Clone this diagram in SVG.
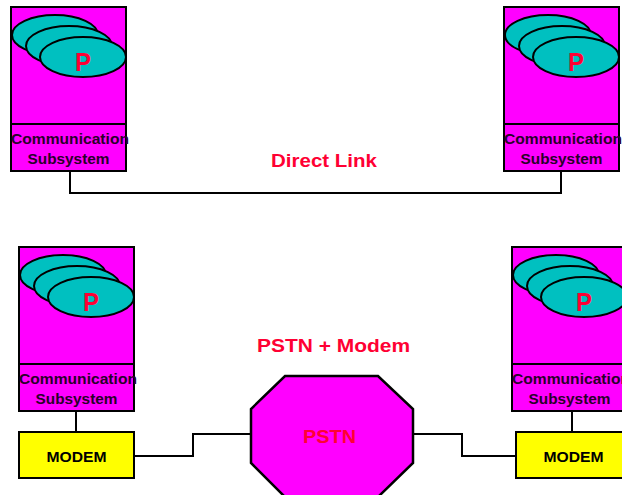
<svg xmlns="http://www.w3.org/2000/svg" width="622" height="495" viewBox="0 0 622 495">
<style>
.box{fill:#ff00ff;stroke:#000;stroke-width:2}
.ell{fill:#00c0c0;stroke:#000;stroke-width:2}
.p{font-family:"Liberation Sans",Arial,sans-serif;font-weight:bold;font-size:26px;fill:#ff0033;text-anchor:middle}
.cs{font-family:"Liberation Sans",Arial,sans-serif;font-weight:bold;font-size:15.5px;fill:#2a002a;text-anchor:middle}
.modem{fill:#ffff00;stroke:#000;stroke-width:2}
.mt{font-family:"Liberation Sans",Arial,sans-serif;font-weight:bold;font-size:15px;fill:#000;text-anchor:middle}
.lbl{font-family:"Liberation Sans",Arial,sans-serif;font-weight:bold;font-size:19px;fill:#ff0033;text-anchor:middle}
.wire{fill:none;stroke:#000;stroke-width:2}
</style>
<rect width="622" height="495" fill="#ffffff"/>
<g id="connectors">
<path class="wire" d="M70,171 V193 H561 V171"/>
<path class="wire" d="M76,411 V432"/>
<path class="wire" d="M572,411 V432"/>
<path class="wire" d="M134,456 H193 V434 H251"/>
<path class="wire" d="M413,434 H462 V456 H516"/>
</g>
<g id="station-top-left" transform="translate(11,7)">
<rect class="box" x="0" y="0" width="115" height="117"/>
<rect class="box" x="0" y="117" width="115" height="47"/>
<ellipse class="ell" cx="44" cy="28" rx="43" ry="20"/>
<ellipse class="ell" cx="58" cy="39" rx="43" ry="20"/>
<ellipse class="ell" cx="72" cy="50" rx="43" ry="20"/>
<text class="p" x="72" y="64" textLength="16" lengthAdjust="spacingAndGlyphs">P</text>
<text class="cs" x="59" y="137" textLength="118" lengthAdjust="spacingAndGlyphs">Communication</text>
<text class="cs" x="57.5" y="157" textLength="82" lengthAdjust="spacingAndGlyphs">Subsystem</text>
</g>
<g id="station-top-right" transform="translate(504,7)">
<rect class="box" x="0" y="0" width="115" height="117"/>
<rect class="box" x="0" y="117" width="115" height="47"/>
<ellipse class="ell" cx="44" cy="28" rx="43" ry="20"/>
<ellipse class="ell" cx="58" cy="39" rx="43" ry="20"/>
<ellipse class="ell" cx="72" cy="50" rx="43" ry="20"/>
<text class="p" x="72" y="64" textLength="16" lengthAdjust="spacingAndGlyphs">P</text>
<text class="cs" x="59" y="137" textLength="118" lengthAdjust="spacingAndGlyphs">Communication</text>
<text class="cs" x="57.5" y="157" textLength="82" lengthAdjust="spacingAndGlyphs">Subsystem</text>
</g>
<g id="station-bottom-left" transform="translate(19,247)">
<rect class="box" x="0" y="0" width="115" height="117"/>
<rect class="box" x="0" y="117" width="115" height="47"/>
<ellipse class="ell" cx="44" cy="28" rx="43" ry="20"/>
<ellipse class="ell" cx="58" cy="39" rx="43" ry="20"/>
<ellipse class="ell" cx="72" cy="50" rx="43" ry="20"/>
<text class="p" x="72" y="64" textLength="16" lengthAdjust="spacingAndGlyphs">P</text>
<text class="cs" x="59" y="137" textLength="118" lengthAdjust="spacingAndGlyphs">Communication</text>
<text class="cs" x="57.5" y="157" textLength="82" lengthAdjust="spacingAndGlyphs">Subsystem</text>
</g>
<g id="station-bottom-right" transform="translate(512,247)">
<rect class="box" x="0" y="0" width="115" height="117"/>
<rect class="box" x="0" y="117" width="115" height="47"/>
<ellipse class="ell" cx="44" cy="28" rx="43" ry="20"/>
<ellipse class="ell" cx="58" cy="39" rx="43" ry="20"/>
<ellipse class="ell" cx="72" cy="50" rx="43" ry="20"/>
<text class="p" x="72" y="64" textLength="16" lengthAdjust="spacingAndGlyphs">P</text>
<text class="cs" x="59" y="137" textLength="118" lengthAdjust="spacingAndGlyphs">Communication</text>
<text class="cs" x="57.5" y="157" textLength="82" lengthAdjust="spacingAndGlyphs">Subsystem</text>
</g>
<g id="modem-left">
<rect class="modem" x="19" y="432" width="115" height="46"/>
<text class="mt" x="76.5" y="462" textLength="60" lengthAdjust="spacingAndGlyphs">MODEM</text>
</g>
<g id="modem-right">
<rect class="modem" x="516" y="432" width="115" height="46"/>
<text class="mt" x="573.5" y="462" textLength="60" lengthAdjust="spacingAndGlyphs">MODEM</text>
</g>
<g id="pstn">
<polygon points="285,376 378,376 413,409 413,463 378,497 285,497 251,463 251,409" fill="#ff00ff" stroke="#000" stroke-width="2.5"/>
<text class="lbl" x="329.5" y="443" font-size="21" textLength="53" lengthAdjust="spacingAndGlyphs">PSTN</text>
</g>
<g id="label-direct-link">
<text class="lbl" x="324" y="167" textLength="106" lengthAdjust="spacingAndGlyphs">Direct Link</text>
</g>
<g id="label-pstn-modem">
<text class="lbl" x="333.5" y="352" font-size="20.5" textLength="153" lengthAdjust="spacingAndGlyphs">PSTN + Modem</text>
</g>
</svg>
